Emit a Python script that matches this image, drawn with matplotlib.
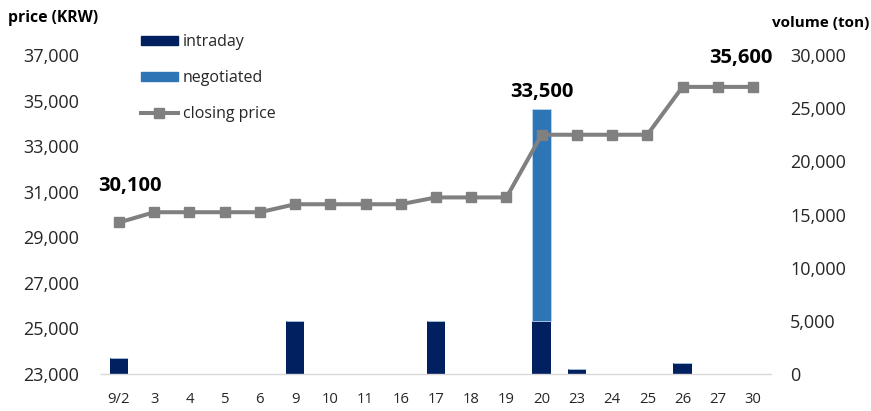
import numpy as np
import matplotlib.pyplot as plt
from matplotlib.patches import Patch
from matplotlib.lines import Line2D

plt.rcParams['font.family'] = ['Open Sans', 'DejaVu Sans']

days = ['9/2', '3', '4', '5', '6', '9', '10', '11', '16', '17',
        '18', '19', '20', '23', '24', '25', '26', '27', '30']
closing = [29650, 30100, 30100, 30100, 30100, 30450, 30450, 30450, 30450, 30750,
           30750, 30750, 33500, 33500, 33500, 33500, 35600, 35600, 35600]
intraday = [1500, 0, 0, 0, 0, 5000, 0, 0, 0, 5000,
            0, 0, 5000, 500, 0, 0, 1000, 0, 0]
negotiated = [0, 0, 0, 0, 0, 0, 0, 0, 0, 0,
              0, 0, 19900, 0, 0, 0, 0, 0, 0]

c_intra = '#002060'
c_nego = '#2E75B6'
c_line = '#808080'

W, H = 871, 411
fig = plt.figure(figsize=(W / 100, H / 100), dpi=100)
x0, x1, ytop, ybot = 101.4, 770.6, 55, 374
ax = fig.add_axes([x0 / W, 1 - ybot / H, (x1 - x0) / W, (ybot - ytop) / H])
axp = ax.twinx()

x = np.arange(len(days))

# volume bars (right scale)
ax.bar(x, intraday, width=0.53, color=c_intra, zorder=2)
ax.bar(x, negotiated, width=0.53, bottom=intraday, color=c_nego,
       edgecolor='#BDD7EE', linewidth=0.6, zorder=2)
ax.set_ylim(0, 30000)
ax.set_xlim(-0.5, len(days) - 0.5)
ax.set_yticks(np.arange(0, 30001, 5000))
ax.set_yticklabels(['{:,}'.format(v) for v in range(0, 30001, 5000)])
ax.yaxis.tick_right()
ax.tick_params(axis='y', length=0, pad=14, labelsize=13, colors='#262626')
ax.set_xticks(x)
ax.set_xticklabels(days)
ax.tick_params(axis='x', length=0, pad=13, labelsize=10.7, colors='#262626')
for s in ['top', 'left', 'right']:
    ax.spines[s].set_visible(False)
ax.spines['bottom'].set_color('#D9D9D9')
ax.spines['bottom'].set_linewidth(1)

# closing price line (left scale)
axp.plot(x, closing, color=c_line, linewidth=2.9, marker='s', markersize=7.2, zorder=3)
axp.set_ylim(23000, 37000)
axp.set_yticks(np.arange(23000, 37001, 2000))
axp.set_yticklabels(['{:,}'.format(v) for v in range(23000, 37001, 2000)])
axp.yaxis.tick_left()
axp.tick_params(axis='y', length=0, pad=15.8, labelsize=13, colors='#262626')
for s in axp.spines.values():
    s.set_visible(False)

# value labels on the price line
for i, dx, dy in [(1, -24.5, 26), (12, 0, 43), (18, -12.6, 29)]:
    axp.annotate('{:,}'.format(closing[i]), xy=(i, closing[i]), xytext=(dx, dy),
                 textcoords='offset pixels', ha='center', va='center',
                 fontsize=14.5, fontweight='bold', color='#000000')

fig.text(8 / W, 1 - 18 / H, 'price (KRW)', ha='left', va='center',
         fontsize=11.3, fontweight='bold', color='#000000')
fig.text(869 / W, 1 - 23 / H, 'volume (ton)', ha='right', va='center',
         fontsize=11, fontweight='bold', color='#000000')

handles = [Patch(color=c_intra), Patch(color=c_nego),
           Line2D([], [], color=c_line, linewidth=2.9, marker='s', markersize=7.2)]
fig.legend(handles, ['intraday', 'negotiated', 'closing price'],
           loc='upper left', bbox_to_anchor=(141 / W, 1 - 34 / H),
           frameon=False, fontsize=11.5, handlelength=2.3, handleheight=0.5,
           handletextpad=0.3, labelspacing=1.25, borderpad=0, borderaxespad=0,
           labelcolor='#262626')

fig.savefig('out.png', dpi=100)
